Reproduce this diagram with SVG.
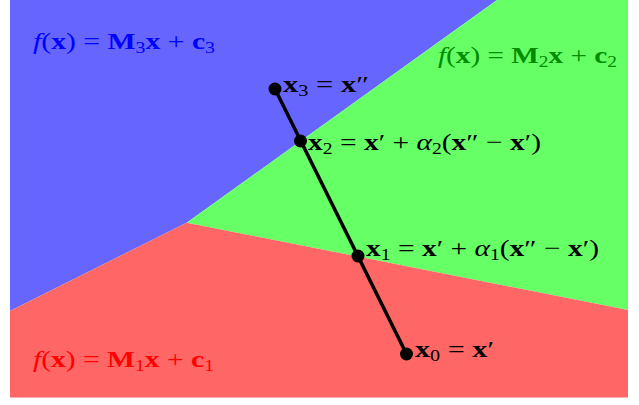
<svg xmlns="http://www.w3.org/2000/svg" width="639" height="405" viewBox="0 0 639 405">
<style>
text{font-family:"Liberation Serif","DejaVu Serif",serif;font-size:24px;}
.b{font-weight:bold}
.i{font-style:italic}
.s{font-size:16px}
.pt{fill:#000}
</style>
<rect width="639" height="405" fill="#fff"/>
<g id="regions">
<polygon id="region3" points="10,0 497,0 186.7,222.7 10,311" fill="#6666ff"/>
<polygon id="region2" points="497,0 628,0 628,310 186.7,222.7" fill="#66ff66"/>
<polygon id="region1" points="10,311 186.7,222.7 628,310 628,397.5 10,397.5" fill="#ff6666"/>
</g>
<g id="region-labels">
<text x="33" y="49" fill="#0000ff" textLength="182" lengthAdjust="spacingAndGlyphs"><tspan class="i">f</tspan>(<tspan class="b">x</tspan>) = <tspan class="b">M</tspan><tspan class="s" dy="4">3</tspan><tspan class="b" dy="-4">x</tspan> + <tspan class="b">c</tspan><tspan class="s" dy="4">3</tspan></text>
<text x="438" y="63" fill="#008c00" textLength="179" lengthAdjust="spacingAndGlyphs"><tspan class="i">f</tspan>(<tspan class="b">x</tspan>) = <tspan class="b">M</tspan><tspan class="s" dy="4">2</tspan><tspan class="b" dy="-4">x</tspan> + <tspan class="b">c</tspan><tspan class="s" dy="4">2</tspan></text>
<text x="33" y="367" fill="#ff0000" textLength="181" lengthAdjust="spacingAndGlyphs"><tspan class="i">f</tspan>(<tspan class="b">x</tspan>) = <tspan class="b">M</tspan><tspan class="s" dy="4">1</tspan><tspan class="b" dy="-4">x</tspan> + <tspan class="b">c</tspan><tspan class="s" dy="4">1</tspan></text>
</g>
<g id="connectors">
<line x1="275" y1="89" x2="406.5" y2="354" stroke="#000" stroke-width="3.5"/>
</g>
<g id="x3">
<circle class="pt" cx="275" cy="89" r="6.5"/>
<text x="283" y="92" textLength="86" lengthAdjust="spacingAndGlyphs"><tspan class="b">x</tspan><tspan class="s" dy="4">3</tspan><tspan dy="-4"> = </tspan><tspan class="b">x</tspan>″</text>
</g>
<g id="x2">
<circle class="pt" cx="300.5" cy="141" r="6.5"/>
<text x="308" y="150" textLength="233" lengthAdjust="spacingAndGlyphs"><tspan class="b">x</tspan><tspan class="s" dy="4">2</tspan><tspan dy="-4"> = </tspan><tspan class="b">x</tspan>′ + <tspan class="i">α</tspan><tspan class="s" dy="4">2</tspan><tspan dy="-4">(</tspan><tspan class="b">x</tspan>″ − <tspan class="b">x</tspan>′)</text>
</g>
<g id="x1">
<circle class="pt" cx="358" cy="256" r="6.5"/>
<text x="366" y="256" textLength="233" lengthAdjust="spacingAndGlyphs"><tspan class="b">x</tspan><tspan class="s" dy="4">1</tspan><tspan dy="-4"> = </tspan><tspan class="b">x</tspan>′ + <tspan class="i">α</tspan><tspan class="s" dy="4">1</tspan><tspan dy="-4">(</tspan><tspan class="b">x</tspan>″ − <tspan class="b">x</tspan>′)</text>
</g>
<g id="x0">
<circle class="pt" cx="406.5" cy="354" r="6.5"/>
<text x="415" y="357" textLength="79" lengthAdjust="spacingAndGlyphs"><tspan class="b">x</tspan><tspan class="s" dy="4">0</tspan><tspan dy="-4"> = </tspan><tspan class="b">x</tspan>′</text>
</g>
</svg>
